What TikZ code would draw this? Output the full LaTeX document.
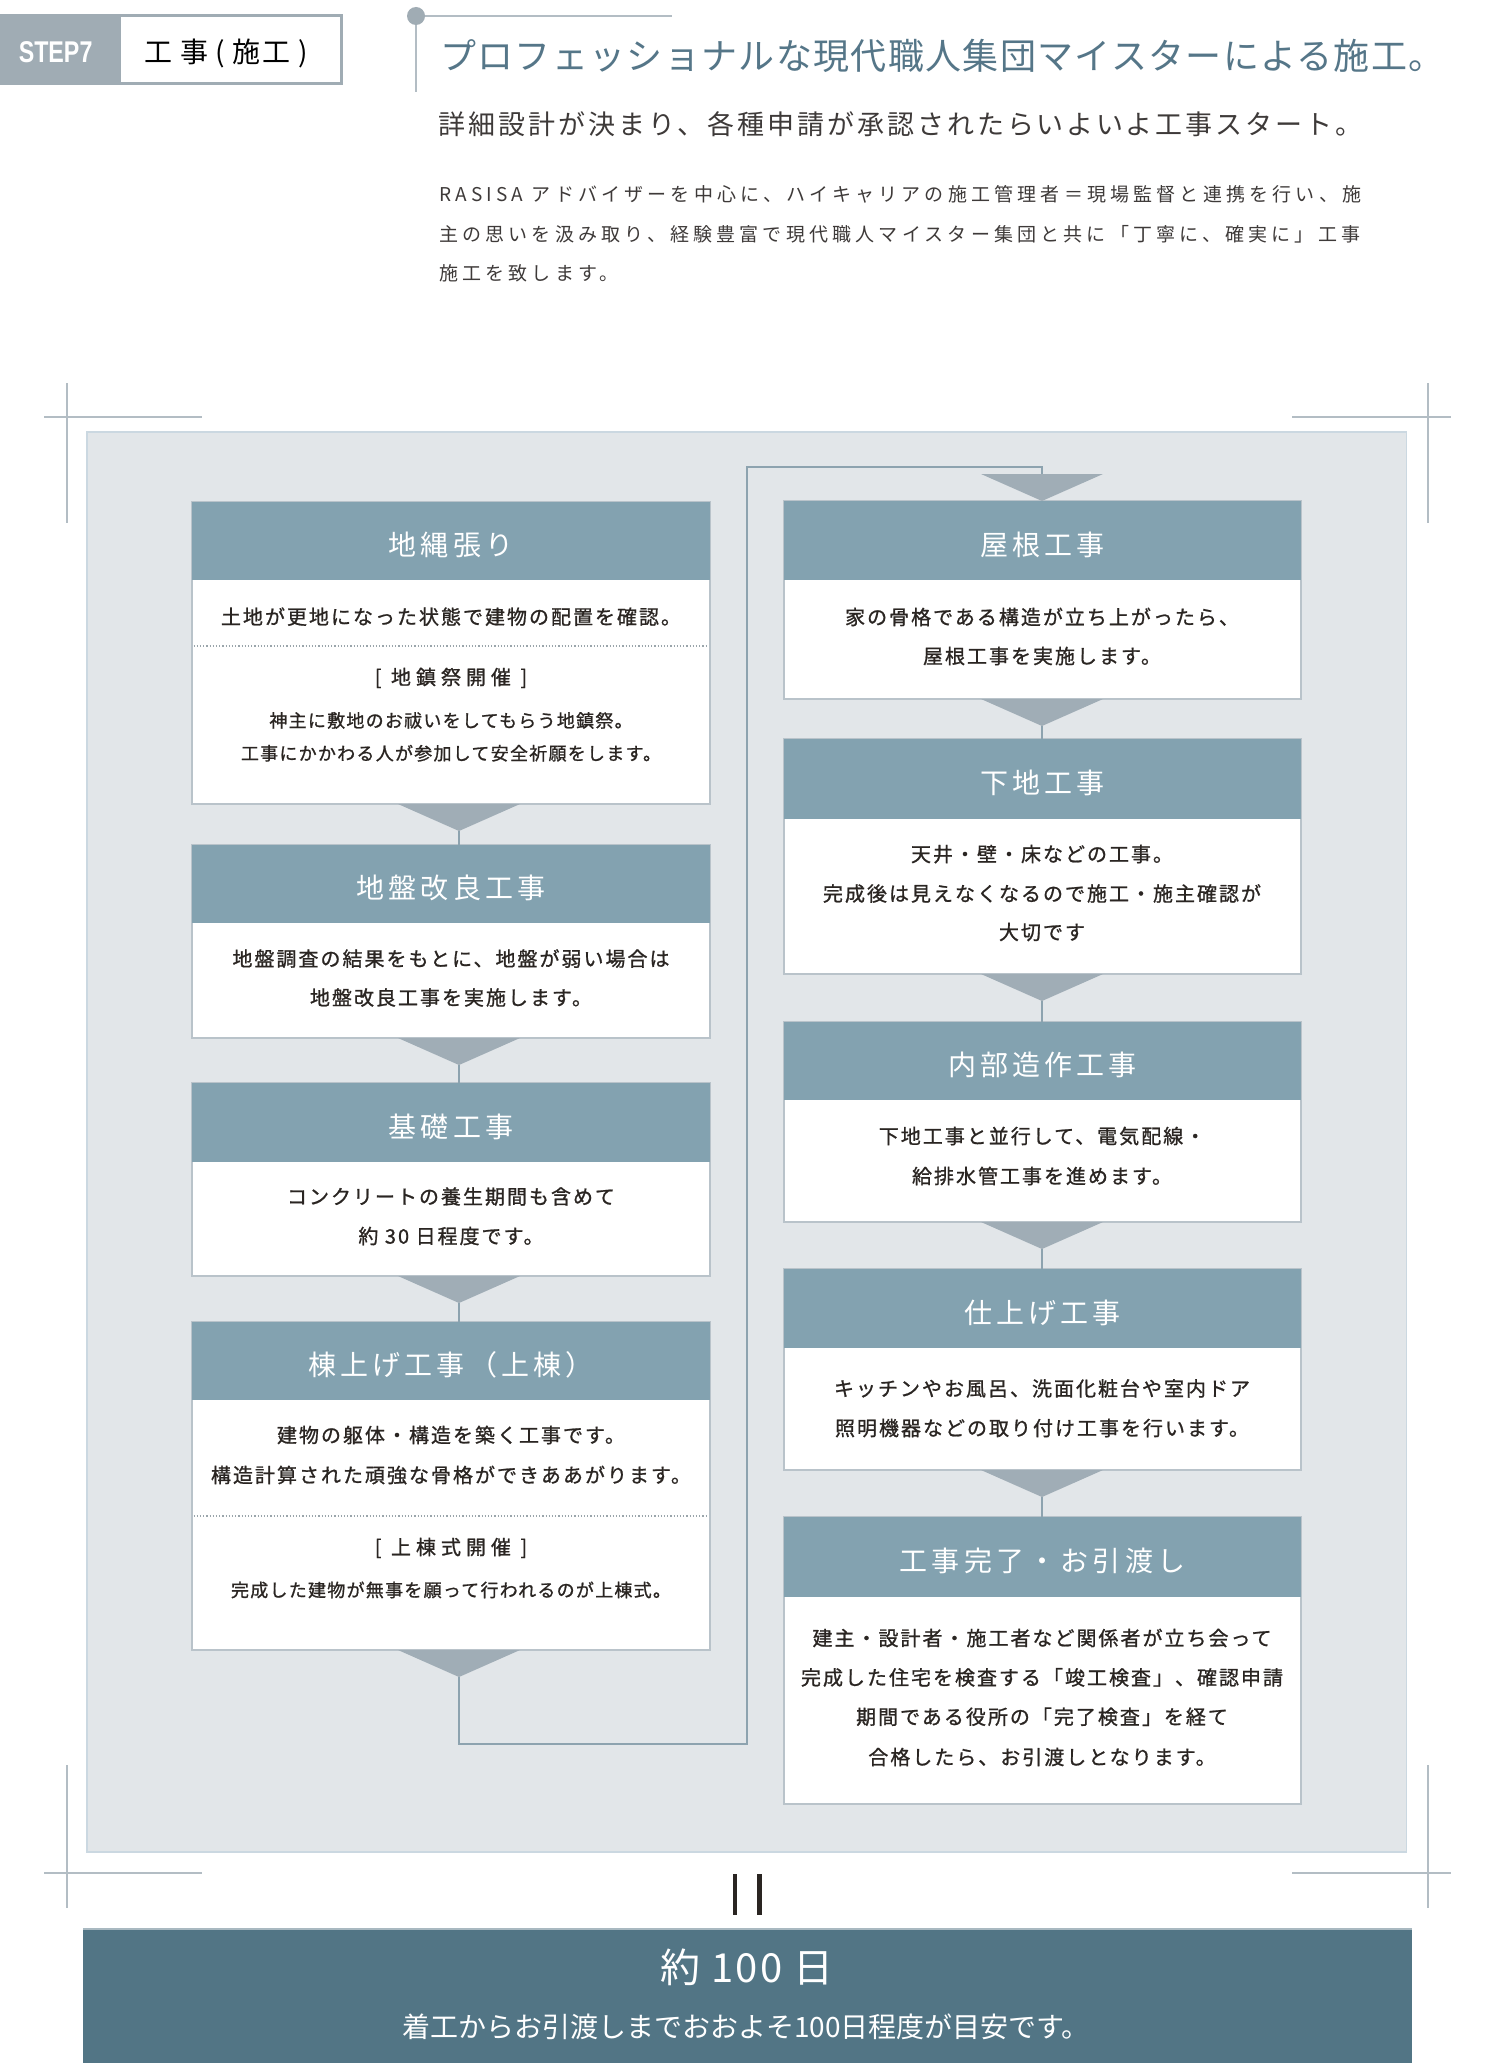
\documentclass[tikz,border=0pt]{standalone}
\usepackage{fontspec}
\usepackage{graphicx}
\setmainfont{Noto Sans CJK JP}
\newfontfamily\jpbody[LetterSpace=10,FakeBold=1]{Noto Sans CJK JP}
\newfontfamily\jpsub[LetterSpace=7,FakeBold=1]{Noto Sans CJK JP}
\newfontfamily\jphead[LetterSpace=15]{Noto Sans CJK JP}
\newfontfamily\jpbr[LetterSpace=25,FakeBold=1]{Noto Sans CJK JP}
\newfontfamily\jppara[LetterSpace=22]{Noto Sans CJK JP}
\newfontfamily\jplead[LetterSpace=11]{Noto Sans CJK JP}
\newfontfamily\jptitle[LetterSpace=3.7]{Noto Sans CJK JP}
\newfontfamily\jptab[LetterSpace=5]{Noto Sans CJK JP}
\newfontfamily\jpban[LetterSpace=5]{Noto Sans CJK JP}
\newfontfamily\jpbansub{Noto Sans CJK JP}
\newfontfamily\stepfont{Liberation Sans}
\definecolor{hdr}{HTML}{83A2B0}
\definecolor{trifill}{HTML}{A0ADB6}
\definecolor{panelbg}{HTML}{E2E6E9}
\definecolor{panelline}{HTML}{CBD8E1}
\definecolor{boxline}{HTML}{B9C3CA}
\definecolor{conn}{HTML}{8DA3AF}
\definecolor{markc}{HTML}{B3BDC4}
\definecolor{tabgray}{HTML}{A0ACB4}
\definecolor{txt}{HTML}{2A2522}
\definecolor{headl}{HTML}{557688}
\definecolor{leadc}{HTML}{3E3A39}
\definecolor{banner}{HTML}{527585}
\definecolor{bannerline}{HTML}{A9B9C1}
\definecolor{dotc}{HTML}{9AA5AB}
\newcommand\stepbox[7]{%
  \node[boxbody, minimum width=#3, minimum height={#6-#4}] (#1) at (#2,#4) {};
  \node[boxhead, minimum width=#3, minimum height={#5-#4}] (#1h) at (#2,#4) {};
  \node[titletxt] (#1t) at ({#2+#3/2},{(#4+#5)/2+14.6}) {#7};
}
\newcommand\bline[4]{\node[bodytxt] (#1) at (#2,{#3+7.6}) {#4};}
\newcommand\sline[4]{\node[subtxt] (#1) at (#2,{#3+6.8}) {#4};}
\newcommand\brline[4]{\node[brtxt] (#1) at (#2,{#3+7.6}) {#4};}
\newcommand\trimark[3]{%
  \fill[trifill] ({#2-61},#3) -- ({#2+61},#3) -- (#2,{#3+27}) -- cycle;
  \coordinate (#1) at (#2,{#3+27});
}
\begin{document}
\begin{tikzpicture}[x=1pt,y=-1pt,
  txtbase/.style={inner sep=0pt, outer sep=0pt, text=txt},
  bodytxt/.style={txtbase, anchor=base, font=\jpbody\fontsize{20}{24}\selectfont},
  subtxt/.style={txtbase, anchor=base, font=\jpsub\fontsize{18}{22}\selectfont},
  brtxt/.style={txtbase, anchor=base, font=\jpbr\fontsize{20}{24}\selectfont},
  titletxt/.style={inner sep=0pt, anchor=base, text=white, font=\jphead\fontsize{28}{30}\selectfont},
  boxbody/.style={draw=boxline, line width=1.2pt, fill=white, anchor=north west, inner sep=0pt, outer sep=0pt},
  boxhead/.style={fill=hdr, anchor=north west, inner sep=0pt, outer sep=0pt},
  connline/.style={draw=conn, line width=1.5pt},
  dotline/.style={draw=dotc, line width=1.2pt, dash pattern=on 1.2pt off 2pt},
  markline/.style={draw=markc, line width=1.5pt},
  deco/.style={draw=markc, line width=1.8pt},
]
\useasboundingbox (0,0) rectangle (1500,2063);
\fill[white] (0,0) rectangle (1500,2063);

% ---------- header ----------
\filldraw[draw=tabgray, line width=3pt, fill=white] (1.5,16) rectangle (341,84);
\fill[tabgray] (0,14.5) rectangle (121,85.5);
\node[inner sep=0pt, anchor=base, text=white, font=\stepfont\bfseries\fontsize{30}{32}\selectfont] (steplbl) at (55.6,62.7) {\scalebox{0.775}[1]{STEP7}};
\node[txtbase, anchor=base, text=black, font=\jptab\fontsize{28}{30}\selectfont] (steptitle) at (226,62.6) {工 事 ( 施工 )};

\draw[deco] (416,16) -- (416,92);
\draw[deco, line width=2.5pt] (416,16) -- (672,16);
\fill[tabgray] (416,16) circle (9);

\node[inner sep=0pt, anchor=base west, text=headl, font=\jptitle\fontsize{36}{40}\selectfont] (headline) at (440,69.4) {プロフェッショナルな現代職人集団マイスターによる施工。};
\node[inner sep=0pt, anchor=base west, text=leadc, font=\jplead\fontsize{27}{30}\selectfont] (lead) at (438.5,134.3) {詳細設計が決まり、各種申請が承認されたらいよいよ工事スタート。};
\node[inner sep=0pt, anchor=base west, text=leadc, font=\jppara\fontsize{19}{22}\selectfont] (para1) at (439,202) {RASISA アドバイザーを中心に、ハイキャリアの施工管理者＝現場監督と連携を行い、施};
\node[inner sep=0pt, anchor=base west, text=leadc, font=\jppara\fontsize{19}{22}\selectfont] (para2) at (439,241.5) {主の思いを汲み取り、経験豊富で現代職人マイスター集団と共に「丁寧に、確実に」工事};
\node[inner sep=0pt, anchor=base west, text=leadc, font=\jppara\fontsize{19}{22}\selectfont] (para3) at (439,280.5) {施工を致します。};

% ---------- corner marks ----------
\draw[markline, line width=1.2pt] (67,383) -- (67,523);
\draw[markline, line width=2pt] (44,417) -- (202,417);
\draw[markline, line width=1.2pt] (1428,383) -- (1428,523);
\draw[markline, line width=2pt] (1292,417) -- (1451,417);
\draw[markline, line width=1.2pt] (67,1765) -- (67,1908);
\draw[markline, line width=2pt] (44,1873) -- (202,1873);
\draw[markline, line width=1.2pt] (1428,1765) -- (1428,1908);
\draw[markline, line width=2pt] (1292,1873) -- (1451,1873);

% ---------- panel ----------
\filldraw[fill=panelbg, draw=panelline, line width=1.5pt] (87,432) rectangle (1406.5,1852);

% ---------- boxes ----------
\stepbox{b1}{192}{518}{502}{580}{804}{地縄張り}
\stepbox{b2}{192}{518}{845}{923}{1038}{地盤改良工事}
\stepbox{b3}{192}{518}{1083}{1162}{1276}{基礎工事}
\stepbox{b4}{192}{518}{1322}{1400}{1650}{棟上げ工事（上棟）}
\stepbox{b5}{784}{517}{501}{580}{699}{屋根工事}
\stepbox{b6}{784}{517}{739}{819}{974}{下地工事}
\stepbox{b7}{784}{517}{1022}{1100}{1222}{内部造作工事}
\stepbox{b8}{784}{517}{1269}{1348}{1470}{仕上げ工事}
\stepbox{b9}{784}{517}{1517}{1597}{1804}{工事完了・お引渡し}

% box texts, left column
\bline{t1a}{451}{616.7}{土地が更地になった状態で建物の配置を確認。}
\draw[dotline] (193.5,646) -- (708.5,646);
\brline{t1b}{451}{677}{[ 地鎮祭開催 ]}
\sline{t1c}{451}{720.5}{神主に敷地のお祓いをしてもらう地鎮祭。}
\sline{t1d}{451}{753.3}{工事にかかわる人が参加して安全祈願をします。}

\bline{t2a}{451}{958.6}{地盤調査の結果をもとに、地盤が弱い場合は}
\bline{t2b}{451}{997.5}{地盤改良工事を実施します。}

\bline{t3a}{451}{1196.5}{コンクリートの養生期間も含めて}
\bline{t3b}{451}{1236}{約 30 日程度です。}

\bline{t4a}{451}{1435}{建物の躯体・構造を築く工事です。}
\bline{t4b}{451}{1475}{構造計算された頑強な骨格ができああがります。}
\draw[dotline] (193.5,1516) -- (708.5,1516);
\brline{t4c}{451}{1547}{[ 上棟式開催 ]}
\sline{t4d}{451}{1590}{完成した建物が無事を願って行われるのが上棟式。}

% box texts, right column
\bline{t5a}{1042}{617}{家の骨格である構造が立ち上がったら、}
\bline{t5b}{1042}{656}{屋根工事を実施します。}

\bline{t6a}{1042}{854}{天井・壁・床などの工事。}
\bline{t6b}{1042}{893.5}{完成後は見えなくなるので施工・施主確認が}
\bline{t6c}{1042}{932}{大切です}

\bline{t7a}{1042}{1136}{下地工事と並行して、電気配線・}
\bline{t7b}{1042}{1176}{給排水管工事を進めます。}

\bline{t8a}{1042}{1388.4}{キッチンやお風呂、洗面化粧台や室内ドア}
\bline{t8b}{1042}{1428}{照明機器などの取り付け工事を行います。}

\bline{t9a}{1042}{1638}{建主・設計者・施工者など関係者が立ち会って}
\bline{t9b}{1042}{1677.4}{完成した住宅を検査する「竣工検査」、確認申請}
\bline{t9c}{1042}{1716.7}{期間である役所の「完了検査」を経て}
\bline{t9d}{1042}{1757}{合格したら、お引渡しとなります。}

% ---------- connectors ----------
\coordinate (lp1) at (747,1744);
\coordinate (lp2) at (1042,467);
\trimark{tip1}{459}{804}
\trimark{tip2}{459}{1038}
\trimark{tip3}{459}{1276}
\trimark{tip4}{459}{1650}
\draw[connline] (tip1) -- (tip1 |- b2.north);
\draw[connline] (tip2) -- (tip2 |- b3.north);
\draw[connline] (tip3) -- (tip3 |- b4.north);
\draw[connline] (tip4) |- (lp1) |- (lp2) -- (1042,476);
\trimark{tip0}{1042}{474}
\trimark{tip5}{1042}{699}
\trimark{tip6}{1042}{974}
\trimark{tip7}{1042}{1222}
\trimark{tip8}{1042}{1470}
\draw[connline] (tip5) -- (tip5 |- b6.north);
\draw[connline] (tip6) -- (tip6 |- b7.north);
\draw[connline] (tip7) -- (tip7 |- b8.north);
\draw[connline] (tip8) -- (tip8 |- b9.north);

% ---------- equals sign ----------
\draw[txt, line width=4.5pt] (735,1874) -- (735,1915);
\draw[txt, line width=4.5pt] (759.5,1874) -- (759.5,1915);

% ---------- banner ----------
\fill[banner] (83,1929) rectangle (1412,2063);
\draw[bannerline, line width=1.5pt] (83,1929) -- (1412,1929);
\node[inner sep=0pt, anchor=base, text=white, font=\jpban\fontsize{40}{44}\selectfont] (days) at (747,1982) {約 100 日};
\node[inner sep=0pt, anchor=base, text=white, font=\jpbansub\fontsize{28}{30}\selectfont] (daysnote) at (746,2037) {着工からお引渡しまでおおよそ100日程度が目安です。};
\end{tikzpicture}
\end{document}
